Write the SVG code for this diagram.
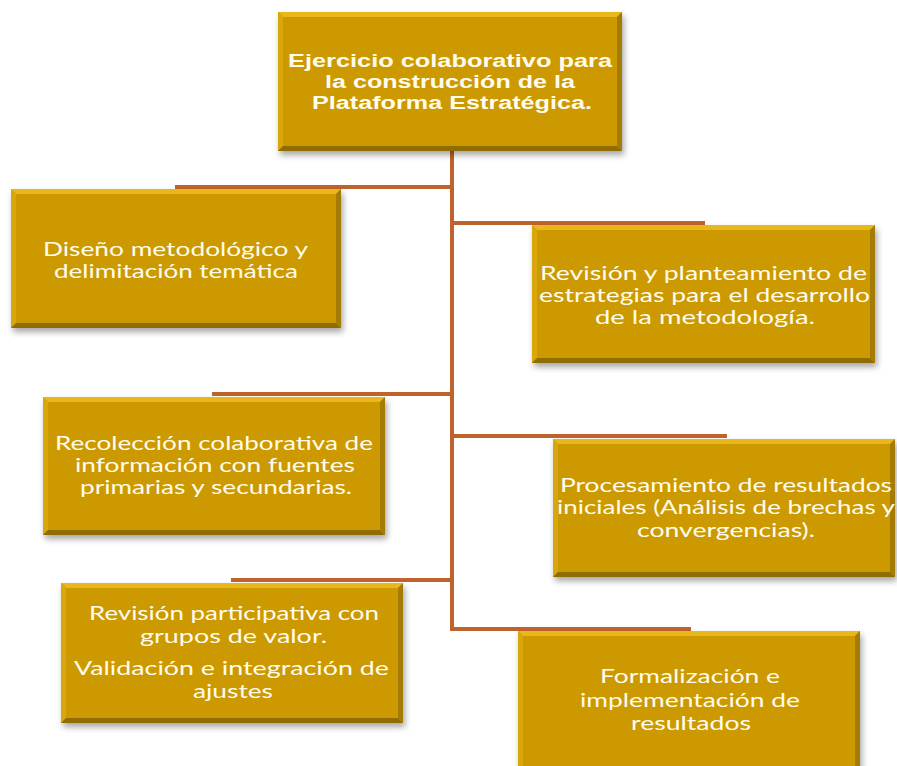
<svg xmlns="http://www.w3.org/2000/svg" width="897" height="766" viewBox="0 0 897 766">
<defs>
<filter id="sh" x="-10%" y="-10%" width="125%" height="130%">
<feDropShadow dx="2" dy="4" stdDeviation="3" flood-color="#000" flood-opacity="0.35"/>
</filter>
</defs>
<style>
.box{fill:#CC9A06;}
.bt{fill:#E8B71A;}
.bl{fill:#D9A60C;}
.bb{fill:#8F6C04;}
.br{fill:#A47C05;}
.conn{stroke:#C0622B;stroke-width:4;fill:none;stroke-linecap:butt;}
.t{font-family:Lato,"Open Sans","Liberation Sans",sans-serif;font-size:19px;fill:#FFFCEE;text-anchor:middle;}
.tt{font-family:"Liberation Sans",Arial,sans-serif;font-size:18px;font-weight:bold;fill:#FFFCEE;text-anchor:middle;}
</style>
<rect width="897" height="766" fill="#FFFFFF"/>
<g id="connectors">
<path class="conn" d="M452 151 V631"/>
<path class="conn" d="M175 187 H452"/>
<path class="conn" d="M452 223 H705"/>
<path class="conn" d="M212 394 H452"/>
<path class="conn" d="M452 436 H727"/>
<path class="conn" d="M231 580 H452"/>
<path class="conn" d="M452 629 H691"/>
</g>
<g id="n0">
<g filter="url(#sh)"><rect class="box" x="278" y="12" width="344" height="139"/></g>
<polygon class="bt" points="278,12 622,12 617,17 283,17"/>
<polygon class="bl" points="278,12 283,17 283,146 278,151"/>
<polygon class="bb" points="278,151 283,146 617,146 622,151"/>
<polygon class="br" points="622,12 622,151 617,146 617,17"/>
<text class="tt" x="450" y="67" textLength="324" lengthAdjust="spacingAndGlyphs">Ejercicio colaborativo para</text>
<text class="tt" x="450" y="88" textLength="250" lengthAdjust="spacingAndGlyphs">la construcción de la</text>
<text class="tt" x="452" y="109" textLength="280" lengthAdjust="spacingAndGlyphs">Plataforma Estratégica.</text>
</g>
<g id="n1">
<g filter="url(#sh)"><rect class="box" x="11" y="189" width="330" height="139"/></g>
<polygon class="bt" points="11,189 341,189 336,194 16,194"/>
<polygon class="bl" points="11,189 16,194 16,323 11,328"/>
<polygon class="bb" points="11,328 16,323 336,323 341,328"/>
<polygon class="br" points="341,189 341,328 336,323 336,194"/>
<text class="t" x="175.5" y="256" textLength="265" lengthAdjust="spacingAndGlyphs">Diseño metodológico y</text>
<text class="t" x="176" y="278" textLength="244" lengthAdjust="spacingAndGlyphs">delimitación temática</text>
</g>
<g id="n2">
<g filter="url(#sh)"><rect class="box" x="532" y="225" width="343" height="138"/></g>
<polygon class="bt" points="532,225 875,225 870,230 537,230"/>
<polygon class="bl" points="532,225 537,230 537,358 532,363"/>
<polygon class="bb" points="532,363 537,358 870,358 875,363"/>
<polygon class="br" points="875,225 875,363 870,358 870,230"/>
<text class="t" x="703.5" y="280" textLength="327" lengthAdjust="spacingAndGlyphs">Revisión y planteamiento de</text>
<text class="t" x="704.5" y="302" textLength="331" lengthAdjust="spacingAndGlyphs">estrategias para el desarrollo</text>
<text class="t" x="705" y="324" textLength="220" lengthAdjust="spacingAndGlyphs">de la metodología.</text>
</g>
<g id="n3">
<g filter="url(#sh)"><rect class="box" x="43" y="397" width="342" height="138"/></g>
<polygon class="bt" points="43,397 385,397 380,402 48,402"/>
<polygon class="bl" points="43,397 48,402 48,530 43,535"/>
<polygon class="bb" points="43,535 48,530 380,530 385,535"/>
<polygon class="br" points="385,397 385,535 380,530 380,402"/>
<text class="t" x="214" y="450" textLength="318" lengthAdjust="spacingAndGlyphs">Recolección colaborativa de</text>
<text class="t" x="215" y="472" textLength="280" lengthAdjust="spacingAndGlyphs">información con fuentes</text>
<text class="t" x="216" y="494" textLength="272" lengthAdjust="spacingAndGlyphs">primarias y secundarias.</text>
</g>
<g id="n4">
<g filter="url(#sh)"><rect class="box" x="553" y="439" width="342" height="138"/></g>
<polygon class="bt" points="553,439 895,439 890,444 558,444"/>
<polygon class="bl" points="553,439 558,444 558,572 553,577"/>
<polygon class="bb" points="553,577 558,572 890,572 895,577"/>
<polygon class="br" points="895,439 895,577 890,572 890,444"/>
<text class="t" x="726" y="492" textLength="332" lengthAdjust="spacingAndGlyphs">Procesamiento de resultados</text>
<text class="t" x="726" y="514" textLength="338" lengthAdjust="spacingAndGlyphs">iniciales (Análisis de brechas y</text>
<text class="t" x="726" y="537" textLength="178" lengthAdjust="spacingAndGlyphs">convergencias).</text>
</g>
<g id="n5">
<g filter="url(#sh)"><rect class="box" x="61" y="583" width="342" height="140"/></g>
<polygon class="bt" points="61,583 403,583 398,588 66,588"/>
<polygon class="bl" points="61,583 66,588 66,718 61,723"/>
<polygon class="bb" points="61,723 66,718 398,718 403,723"/>
<polygon class="br" points="403,583 403,723 398,718 398,588"/>
<text class="t" x="234" y="620" textLength="290" lengthAdjust="spacingAndGlyphs">Revisión participativa con</text>
<text class="t" x="233.5" y="643" textLength="187" lengthAdjust="spacingAndGlyphs">grupos de valor.</text>
<text class="t" x="231.5" y="675" textLength="315" lengthAdjust="spacingAndGlyphs">Validación e integración de</text>
<text class="t" x="233" y="698" textLength="80" lengthAdjust="spacingAndGlyphs">ajustes</text>
</g>
<g id="n6">
<g filter="url(#sh)"><rect class="box" x="518" y="631" width="342" height="140"/></g>
<polygon class="bt" points="518,631 860,631 855,636 523,636"/>
<polygon class="bl" points="518,631 523,636 523,771 518,771"/>
<polygon class="br" points="860,631 860,771 855,771 855,636"/>
<text class="t" x="690" y="683" textLength="180" lengthAdjust="spacingAndGlyphs">Formalización e</text>
<text class="t" x="690" y="707" textLength="220" lengthAdjust="spacingAndGlyphs">implementación de</text>
<text class="t" x="691" y="730" textLength="120" lengthAdjust="spacingAndGlyphs">resultados</text>
</g>
</svg>
